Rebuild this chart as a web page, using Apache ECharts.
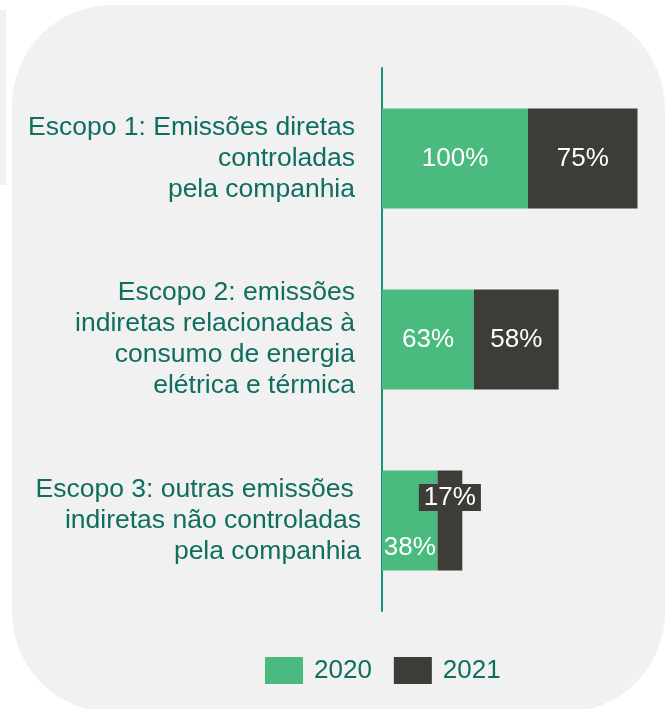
<!DOCTYPE html>
<html>
<head>
<meta charset="utf-8">
<script src="https://cdn.jsdelivr.net/npm/echarts@6/dist/echarts.min.js"></script>
<style>
  html, body { margin: 0; padding: 0; background: #ffffff; }
  #chart { width: 670px; height: 709px; }
</style>
</head>
<body>
<div id="chart"></div>
<script>
// Emission scopes (top to bottom) and the share for each year
const categories = [
  'Escopo 1: Emissões diretas\ncontroladas\npela companhia',
  'Escopo 2: emissões\nindiretas relacionadas à\nconsumo de energia\nelétrica e térmica',
  'Escopo 3: outras emissões \nindiretas não controladas\npela companhia'
];
const years = ['2020', '2021'];
const values2020 = [100, 63, 38];
const values2021 = [75, 58, 17];

const GREEN = '#4aba7e';
const DARK = '#3e3c37';
const TEAL_TEXT = '#0f6e5f';
const FONT = '"Liberation Sans", Arial, sans-serif';

const chart = echarts.init(document.getElementById('chart'), null, { renderer: 'canvas' });

// The third bar is too short for centred labels, so its labels sit above/below
const data2020 = values2020.map((v, i) => i === 2
  ? { value: v, label: { offset: [0, 27] } }
  : v);
const data2021 = values2021.map((v, i) => i === 2
  ? { value: v, label: { offset: [0, -23], backgroundColor: DARK, padding: [1, 5, 0, 5] } }
  : v);

const yData = categories.map((c, i) => i === 2
  ? { value: c, textStyle: { padding: [0, 0, 0, 0] } }
  : { value: c, textStyle: { padding: [0, 6, 0, 0] } });

chart.setOption({
  backgroundColor: '#ffffff',
  animation: false,
  graphic: [
    { type: 'rect', z: -10, shape: { x: 0, y: 10, width: 6, height: 175 }, style: { fill: '#f1f1f1' } },
    { type: 'rect', z: -10, shape: { x: 12, y: 5, width: 653, height: 707, r: [100, 105, 100, 100] }, style: { fill: '#f1f1f1' } }
  ],
  grid: { left: 382, top: 68, width: 255.5, height: 543, containLabel: false },
  xAxis: {
    type: 'value', min: 0, max: 175, show: false
  },
  yAxis: {
    type: 'category',
    inverse: true,
    data: yData,
    axisLine: { show: true, lineStyle: { color: '#1a8f7e', width: 2 } },
    axisTick: { show: false },
    axisLabel: {
      margin: 21,
      color: TEAL_TEXT,
      fontFamily: FONT,
      fontSize: 26.5,
      lineHeight: 31,
      align: 'right'
    }
  },
  legend: {
    left: 260, top: 652,
    itemWidth: 38, itemHeight: 27, itemGap: 22,
    icon: 'rect',
    data: years,
    textStyle: { color: TEAL_TEXT, fontFamily: FONT, fontSize: 26, padding: [2, 0, 0, 6] }
  },
  series: [
    {
      name: years[0], type: 'bar', stack: 'total', barWidth: 100,
      itemStyle: { color: GREEN },
      label: { show: true, position: 'inside', color: '#ffffff', fontFamily: FONT, fontSize: 26, formatter: '{c}%' },
      data: data2020
    },
    {
      name: years[1], type: 'bar', stack: 'total', barWidth: 100,
      itemStyle: { color: DARK },
      label: { show: true, position: 'inside', color: '#ffffff', fontFamily: FONT, fontSize: 26, formatter: '{c}%' },
      data: data2021
    }
  ]
});
</script>
</body>
</html>
